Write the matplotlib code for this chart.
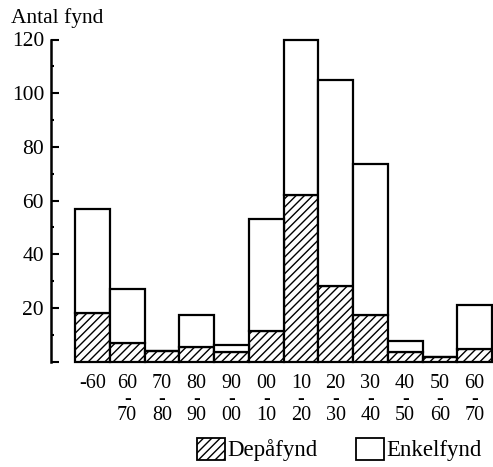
import matplotlib
matplotlib.use("Agg")
import matplotlib.pyplot as plt
from matplotlib.patches import Patch
from matplotlib.ticker import MultipleLocator

plt.rcParams['font.family'] = ['Liberation Serif', 'DejaVu Serif']
plt.rcParams['hatch.linewidth'] = 1.0

periods = ["-60", "60\n-\n70", "70\n-\n80", "80\n-\n90", "90\n-\n00", "00\n-\n10",
           "10\n-\n20", "20\n-\n30", "30\n-\n40", "40\n-\n50", "50\n-\n60", "60\n-\n70"]
depafynd = [18, 7, 4, 5.5, 3.5, 11.5, 62, 28, 17.5, 3.5, 1.5, 4.5]
totalt = [57, 27, 4, 17.5, 6, 53, 120, 105, 73.5, 7.5, 1.5, 21]
enkelfynd = [t - d for t, d in zip(totalt, depafynd)]
yticks = [20, 40, 60, 80, 100, 120]

W, H = 493, 467
fig = plt.figure(figsize=(W / 100, H / 100), dpi=100)
ax = fig.add_axes([51 / W, 1 - 361.5 / H, (W - 51) / W, (361.5 - 39.5) / H])

x = list(range(len(periods)))
lw = 1.6
ax.bar(x, depafynd, width=1.0, align='edge', color='white', edgecolor='black',
       hatch='////', linewidth=lw, clip_on=False, zorder=2)
ax.bar(x, enkelfynd, bottom=depafynd, width=1.0, align='edge', color='white',
       edgecolor='black', linewidth=lw, clip_on=False, zorder=2)

px = (492 - 75) / 12.0
ax.set_xlim(-(75 - 51) / px, 12 + (W - 492) / px)
ax.set_ylim(0, 120)

for s in ['top', 'right', 'bottom']:
    ax.spines[s].set_visible(False)
ax.spines['left'].set_linewidth(1.8)

ax.set_yticks([0] + yticks)
ax.set_yticklabels([""] + [str(v) for v in yticks])
ax.yaxis.set_minor_locator(MultipleLocator(10))
ax.tick_params(axis='y', which='major', direction='in', length=6, width=1.5,
               labelsize=15.5, pad=5)
ax.tick_params(axis='y', which='minor', direction='in', length=2.5, width=1.5)

ax.set_xticks([i + 0.5 for i in x])
ax.set_xticklabels(periods, linespacing=0.8)
ax.tick_params(axis='x', length=0, labelsize=14.5, pad=9)

fig.text(11 / W, 1 - 23 / H, "Antal fynd", fontsize=15.5, va='baseline', ha='left')

handles = [Patch(facecolor='white', edgecolor='black', hatch='////', linewidth=1.3),
           Patch(facecolor='white', edgecolor='black', linewidth=1.3)]
fig.legend(handles, ["Depåfynd", "Enkelfynd"], ncol=2, frameon=False,
           loc='center left', bbox_to_anchor=(197 / W, 1 - 449.5 / H),
           fontsize=16.5, handlelength=1.22, handleheight=1.1, handletextpad=0.1,
           columnspacing=1.7, borderpad=0, borderaxespad=0)

fig.savefig("out.png", dpi=100)
